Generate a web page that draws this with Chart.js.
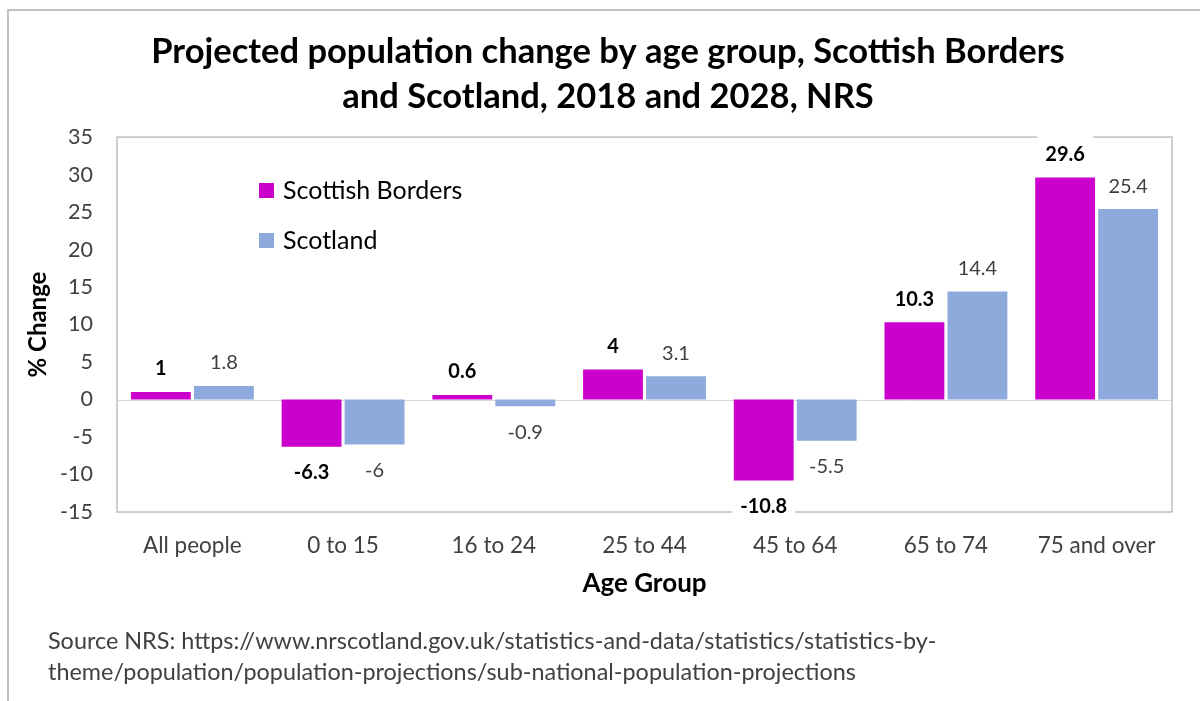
<!DOCTYPE html>
<html>
<head>
<meta charset="utf-8">
<script src="https://cdn.jsdelivr.net/npm/chart.js@4.4.0/dist/chart.umd.min.js"></script>
<style>
  html, body { margin: 0; padding: 0; background: #ffffff; }
  #wrap { width: 1200px; height: 701px; position: relative; }
</style>
</head>
<body>
<div id="wrap"><canvas id="c" width="1200" height="701"></canvas></div>
<script>
const categories = ['All people', '0 to 15', '16 to 24', '25 to 44', '45 to 64', '65 to 74', '75 and over'];
const seriesNames = ['Scottish Borders', 'Scotland'];
const scottishBorders = [1, -6.3, 0.6, 4, -10.8, 10.3, 29.6];
const scotland = [1.8, -6, -0.9, 3.1, -5.5, 14.4, 25.4];
const yTicks = [-15, -10, -5, 0, 5, 10, 15, 20, 25, 30, 35];
const titleLines = ['Projected population change by age group, Scottish Borders', 'and Scotland, 2018 and 2028, NRS'];
const sourceLines = ['Source NRS: https://www.nrscotland.gov.uk/statistics-and-data/statistics/statistics-by-',
                     'theme/population/population-projections/sub-national-population-projections'];
const yTitle = '% Change';
const xTitle = 'Age Group';

const FONT = 'Lato, "Open Sans", sans-serif';
const colors = ['#CC00CC', '#8EA9DB'];
const labelColors = ['#000000', '#404040'];

const framePlugin = {
  id: 'frame',
  beforeDraw(chart) {
    const ctx = chart.ctx;
    ctx.save();
    ctx.fillStyle = '#ffffff';
    ctx.fillRect(0, 0, chart.width, chart.height);
    ctx.strokeStyle = '#bfbfbf';
    ctx.lineWidth = 2;
    ctx.beginPath();
    ctx.moveTo(8, 701); ctx.lineTo(8, 10); ctx.lineTo(1200, 10);
    ctx.stroke();
    ctx.restore();
  },
  beforeDatasetsDraw(chart) {
    const ctx = chart.ctx;
    const a = chart.chartArea;
    const y0 = chart.scales.y.getPixelForValue(0);
    ctx.save();
    ctx.strokeStyle = '#d9d9d9';
    ctx.lineWidth = 1;
    ctx.beginPath();
    ctx.moveTo(a.left, Math.round(y0) + 0.5);
    ctx.lineTo(a.right, Math.round(y0) + 0.5);
    ctx.stroke();
    ctx.strokeStyle = '#bfbfbf';
    ctx.lineWidth = 1.5;
    ctx.strokeRect(a.left, a.top, a.right - a.left, a.bottom - a.top);
    ctx.restore();
  },
  afterDatasetsDraw(chart) {
    const ctx = chart.ctx;
    ctx.save();
    chart.data.datasets.forEach((ds, di) => {
      const meta = chart.getDatasetMeta(di);
      ctx.font = (di === 0 ? 'bold ' : '') + '20px ' + FONT;
      ctx.textAlign = 'center';
      ctx.textBaseline = 'middle';
      meta.data.forEach((bar, i) => {
        const v = ds.data[i];
        const txt = String(v);
        const y = v >= 0 ? bar.y - 23 : bar.y + 26;
        const w = ctx.measureText(txt).width;
        ctx.fillStyle = '#ffffff';
        ctx.fillRect(bar.x - w / 2 - 8, y - 19, w + 16, 38);
        ctx.fillStyle = labelColors[di];
        ctx.fillText(txt, bar.x, y);
      });
    });
    ctx.restore();
  },
  afterDraw(chart) {
    const ctx = chart.ctx;
    ctx.save();
    // legend
    ctx.font = '25px ' + FONT;
    ctx.textAlign = 'left';
    ctx.textBaseline = 'middle';
    chart.data.datasets.forEach((ds, di) => {
      const cy = 190 + di * 50;
      ctx.fillStyle = ds.backgroundColor;
      ctx.fillRect(259, cy - 7, 15, 15);
      ctx.fillStyle = '#000000';
      ctx.fillText(ds.label, 283, cy + 1);
    });
    // source
    ctx.font = '23.4px ' + FONT;
    ctx.fillStyle = '#404040';
    sourceLines.forEach((s, i) => ctx.fillText(s, 48, 641 + i * 31));
    ctx.restore();
  }
};

new Chart(document.getElementById('c'), {
  type: 'bar',
  data: {
    labels: categories,
    datasets: [
      { label: seriesNames[0], data: scottishBorders, backgroundColor: colors[0], borderWidth: 0, yAxisID: 'y' },
      { label: seriesNames[1], data: scotland, backgroundColor: colors[1], borderWidth: 0, yAxisID: 'y' }
    ]
  },
  options: {
    responsive: false,
    animation: false,
    devicePixelRatio: 1,
    categoryPercentage: 0.836,
    barPercentage: 0.95,
    layout: { padding: { left: 16, right: 0, top: 0, bottom: 99 } },
    plugins: {
      legend: { display: false },
      tooltip: { enabled: false },
      title: {
        display: true,
        text: titleLines,
        color: '#000000',
        font: { family: FONT, size: 34.5, weight: 'bold', lineHeight: 1.3 },
        padding: { top: 29.6, bottom: 17.8 }
      }
    },
    scales: {
      x: {
        grid: { display: false, drawTicks: false },
        border: { display: false },
        ticks: { color: '#404040', font: { family: FONT, size: 22.5 }, padding: 20, maxRotation: 0 },
        title: { display: true, text: xTitle, color: '#000000', font: { family: FONT, size: 26, weight: 'bold' }, padding: { top: 0, bottom: 2.4 } },
        afterFit(s) { s.height = 90; }
      },
      y: {
        min: -15, max: 35,
        grid: { display: false, drawTicks: false },
        border: { display: false },
        afterBuildTicks(s) { s.ticks = yTicks.map(v => ({ value: v })); },
        ticks: { color: '#404040', font: { family: FONT, size: 21.5 }, padding: 24 },
        title: { display: true, text: yTitle, color: '#000000', font: { family: FONT, size: 24, weight: 'bold' }, padding: { top: 7.6, bottom: 0 } },
        afterFit(s) { s.width = 101; }
      },
      y2: {
        position: 'right',
        display: true,
        grid: { display: false, drawTicks: false },
        border: { display: false },
        ticks: { display: false },
        afterFit(s) { s.width = 28; }
      }
    }
  },
  plugins: [framePlugin]
});
</script>
</body>
</html>
